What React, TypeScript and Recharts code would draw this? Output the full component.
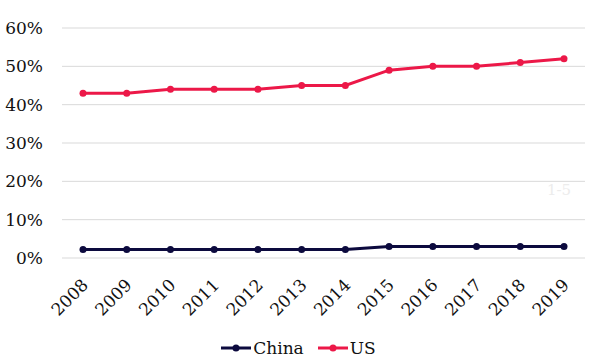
import { LineChart, Line, XAxis, YAxis, CartesianGrid, Legend } from 'recharts';

const years = ['2008', '2009', '2010', '2011', '2012', '2013', '2014', '2015', '2016', '2017', '2018', '2019'];
const china = [2.2, 2.2, 2.2, 2.2, 2.2, 2.2, 2.2, 3.0, 3.0, 3.0, 3.0, 3.0];
const us = [43, 43, 44, 44, 44, 45, 45, 49, 50, 50, 51, 52];
const yTicks = [0, 10, 20, 30, 40, 50, 60];

const NAVY = '#0c0a3e';
const RED = '#ec1848';
const FONT = "'DejaVu Serif', Georgia, serif";

const data = years.map((year, i) => ({ year, China: china[i], US: us[i] }));

const XTick = ({ x, y, payload }: any) => (
  <text
    x={x + 3}
    y={y + 17}
    transform={`rotate(-45, ${x + 3}, ${y + 17})`}
    textAnchor="end"
    dominantBaseline="middle"
    fontFamily={FONT}
    fontSize={17}
    fill="#111"
  >
    {payload.value}
  </text>
);

const LegendContent = ({ payload }: any) => (
  <div style={{ display: 'flex', justifyContent: 'center', gap: 14, fontFamily: FONT, fontSize: 17, color: '#111', paddingLeft: 12 }}>
    {payload.map((p: any) => (
      <div key={p.value} style={{ display: 'flex', alignItems: 'center' }}>
        <svg width={30} height={10} style={{ marginRight: 2 }}>
          <line x1={0} y1={5} x2={30} y2={5} stroke={p.color} strokeWidth={3} />
          <circle cx={15} cy={5} r={3.5} fill={p.color} />
        </svg>
        <span>{p.value}</span>
      </div>
    ))}
  </div>
);

export default function App() {
  return (
    <div style={{ position: 'absolute', left: 0, top: 0, width: 589, height: 364, background: '#fff' }}>
      <LineChart width={589} height={364} data={data} margin={{ top: 28, right: 4, left: 0, bottom: 6 }}>
        <CartesianGrid vertical={false} stroke="#d9d9d9" strokeWidth={1} />
        <XAxis
          dataKey="year"
          axisLine={false}
          tickLine={false}
          interval={0}
          padding={{ left: 21, right: 21 }}
          height={80}
          tick={<XTick />}
        />
        <YAxis
          domain={[0, 60]}
          ticks={yTicks}
          tickFormatter={(v: number) => `${v}%`}
          axisLine={false}
          tickLine={false}
          width={62}
          tickMargin={13}
          tick={{ fontFamily: FONT, fontSize: 17, fill: '#111' }}
        />
        <Line
          type="linear"
          dataKey="China"
          stroke={NAVY}
          strokeWidth={3}
          dot={{ r: 3.5, fill: NAVY, stroke: NAVY, strokeWidth: 0 }}
          isAnimationActive={false}
        />
        <Line
          type="linear"
          dataKey="US"
          stroke={RED}
          strokeWidth={3}
          dot={{ r: 3.5, fill: RED, stroke: RED, strokeWidth: 0 }}
          isAnimationActive={false}
        />
        <Legend verticalAlign="bottom" content={<LegendContent />} />
        <text x={559} y={195} textAnchor="middle" fontFamily={FONT} fontSize={15} fill="#ececec">
          1-5
        </text>
      </LineChart>
    </div>
  );
}
